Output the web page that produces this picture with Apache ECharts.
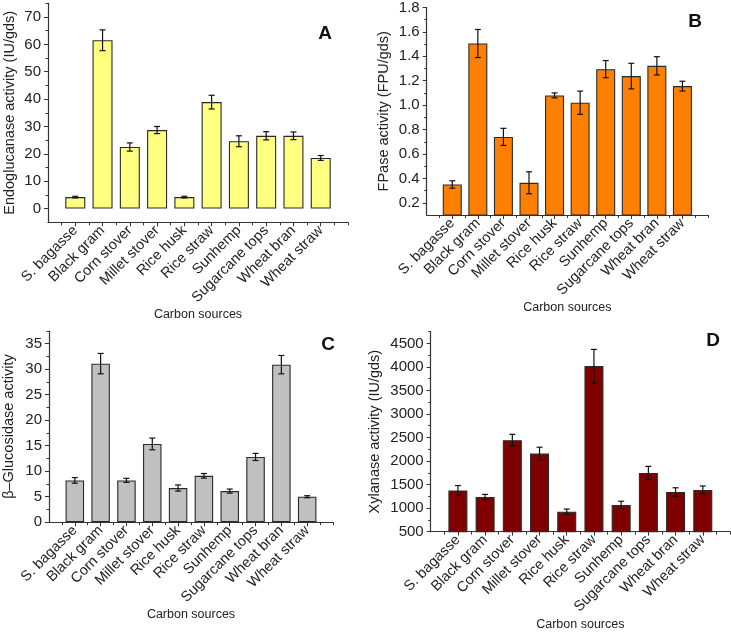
<!DOCTYPE html>
<html>
<head>
<meta charset="utf-8">
<script src="https://cdn.jsdelivr.net/npm/echarts@6/dist/echarts.min.js"></script>
<style>
html,body{margin:0;padding:0;background:#fff;}
#chart{width:731px;height:633px;}
</style>
</head>
<body>
<div id="chart"></div>
<script>
const categories = ['S. bagasse','Black gram','Corn stover','Millet stover','Rice husk','Rice straw','Sunhemp','Sugarcane tops','Wheat bran','Wheat straw'];

const endoValues = [4.2, 61.5, 22.5, 28.7, 4.2, 38.9, 24.6, 26.6, 26.6, 18.5];
const endoErrors = [0.3, 3.8, 1.5, 1.3, 0.3, 2.5, 2.0, 1.5, 1.4, 0.9];
const endoTicks = [0, 10, 20, 30, 40, 50, 60, 70];
const endoMinor = [5, 15, 25, 35, 45, 55, 65, 75];

const fpaseValues = [0.35, 1.505, 0.74, 0.364, 1.08, 1.02, 1.295, 1.238, 1.322, 1.156];
const fpaseErrors = [0.03, 0.115, 0.07, 0.09, 0.02, 0.095, 0.07, 0.105, 0.075, 0.04];
const fpaseTicks = [0.2, 0.4, 0.6, 0.8, 1.0, 1.2, 1.4, 1.6, 1.8];
const fpaseMinor = [0.3, 0.5, 0.7, 0.9, 1.1, 1.3, 1.5, 1.7];

const glucoValues = [8.2, 31.1, 8.2, 15.35, 6.7, 9.1, 6.1, 12.8, 30.9, 5.0];
const glucoErrors = [0.55, 2.0, 0.4, 1.15, 0.6, 0.45, 0.4, 0.7, 1.8, 0.2];
const glucoTicks = [0, 5, 10, 15, 20, 25, 30, 35];
const glucoMinor = [2.5, 7.5, 12.5, 17.5, 22.5, 27.5, 32.5, 37.5];

const xylValues = [1374, 1235, 2442, 2158, 924, 4017, 1065, 1746, 1341, 1384];
const xylErrors = [105, 55, 125, 135, 55, 355, 80, 140, 90, 85];
const xylTicks = [500, 1000, 1500, 2000, 2500, 3000, 3500, 4000, 4500];
const xylMinor = [750, 1250, 1750, 2250, 2750, 3250, 3750, 4250, 4750];

const xMajor = [1,2,3,4,5,6,7,8,9,10];
const xMinor = [0.5,1.5,2.5,3.5,4.5,5.5,6.5,7.5,8.5,9.5,10.5,11];

const FONT = 'Liberation Sans, Arial, sans-serif';
const AXIS_COLOR = '#333';

const panels = [
  {letter:'A', values:endoValues, errors:endoErrors, ticks:endoTicks, minor:endoMinor, min:-5, max:75,
   name:'Endoglucanase activity (IU/gds)', color:'#FFFF80', fmt:v=>String(Math.round(v)),
   left:48, top:3.3, width:300, height:219, barWidth:20, nameGap:31, lx:325, ly:34},
  {letter:'B', values:fpaseValues, errors:fpaseErrors, ticks:fpaseTicks, minor:fpaseMinor, min:0.1, max:1.8,
   name:'FPase activity (FPU/gds)', color:'#FF8000', fmt:v=>v.toFixed(1),
   left:426.7, top:7.3, width:281.3, height:207.7, barWidth:19, nameGap:35, lx:695, ly:22},
  {letter:'C', values:glucoValues, errors:glucoErrors, ticks:glucoTicks, minor:glucoMinor, min:0, max:37.5,
   name:'β–Glucosidase activity', color:'#C0C0C0', fmt:v=>String(Math.round(v)),
   left:48.3, top:331, width:284.7, height:191.2, barWidth:18.5, nameGap:33, lx:328, ly:345},
  {letter:'D', values:xylValues, errors:xylErrors, ticks:xylTicks, minor:xylMinor, min:500, max:4750,
   name:'Xylanase activity (IU/gds)', color:'#800000', fmt:v=>String(Math.round(v)),
   left:430.7, top:331.6, width:299.3, height:200, barWidth:19, nameGap:48, lx:713, ly:341}
];

const grid = [], xAxis = [], yAxis = [], series = [], graphic = [];

panels.forEach((p, i) => {
  grid.push({left:p.left, top:p.top, width:p.width, height:p.height, containLabel:false});
  xAxis.push({
    type:'value', gridIndex:i, min:0, max:11, position:'bottom',
    axisLine:{show:true, onZero:false, lineStyle:{color:AXIS_COLOR, width:1.2}},
    axisTick:{show:true, length:4, customValues:xMajor, lineStyle:{color:AXIS_COLOR}},
    axisLabel:{show:true, customValues:xMajor, rotate:45, margin:6,
      fontFamily:FONT, fontSize:14.5, color:'#222',
      formatter:v=>categories[Math.round(v)-1] || ''},
    splitLine:{show:false},
    name:'Carbon sources', nameLocation:'middle', nameGap:86,
    nameTextStyle:{fontFamily:FONT, fontSize:12.5, color:'#222'}
  });
  xAxis.push({
    type:'value', gridIndex:i, min:0, max:11, position:'bottom',
    axisLine:{show:false, onZero:false},
    axisTick:{show:true, length:3, customValues:xMinor, lineStyle:{color:AXIS_COLOR}},
    axisLabel:{show:false}, splitLine:{show:false}
  });
  yAxis.push({
    type:'value', gridIndex:i, min:p.min, max:p.max, position:'left',
    axisLine:{show:true, onZero:false, lineStyle:{color:AXIS_COLOR, width:1.2}},
    axisTick:{show:true, length:4, customValues:p.ticks, lineStyle:{color:AXIS_COLOR}},
    axisLabel:{show:true, customValues:p.ticks, margin:7, fontFamily:FONT, fontSize:15, color:'#222', formatter:p.fmt},
    splitLine:{show:false},
    name:p.name, nameLocation:'middle', nameRotate:90, nameGap:p.nameGap,
    nameTextStyle:{fontFamily:FONT, fontSize:14.5, color:'#222'}
  });
  yAxis.push({
    type:'value', gridIndex:i, min:p.min, max:p.max, position:'left',
    axisLine:{show:false, onZero:false},
    axisTick:{show:true, length:2.5, customValues:p.minor, lineStyle:{color:AXIS_COLOR}},
    axisLabel:{show:false}, splitLine:{show:false}
  });

  const barData = p.values.map((v, k) => [k + 1, v]);
  const errData = p.values.map((v, k) => [k + 1, v, p.errors[k]]);

  series.push({
    type:'bar', xAxisIndex:2*i, yAxisIndex:2*i, data:barData, barWidth:p.barWidth,
    itemStyle:{color:p.color, borderColor:'#2a2a2a', borderWidth:1.1},
    silent:true, animation:false, z:2
  });
  series.push({
    type:'custom', xAxisIndex:2*i, yAxisIndex:2*i, data:errData, z:5, animation:false, silent:true,
    renderItem:(params, api) => {
      const x = api.value(0), v = api.value(1), e = api.value(2);
      const t = api.coord([x, v + e]);
      const b = api.coord([x, v - e]);
      const cap = 3;
      const st = {stroke:'#111', lineWidth:1.2};
      return {type:'group', children:[
        {type:'line', shape:{x1:t[0], y1:t[1], x2:b[0], y2:b[1]}, style:st},
        {type:'line', shape:{x1:t[0]-cap, y1:t[1], x2:t[0]+cap, y2:t[1]}, style:st},
        {type:'line', shape:{x1:b[0]-cap, y1:b[1], x2:b[0]+cap, y2:b[1]}, style:st}
      ]};
    }
  });

  graphic.push({
    type:'text', x:p.lx, y:p.ly,
    style:{text:p.letter, font:'bold 19px ' + FONT, fill:'#111', align:'center', verticalAlign:'middle'}
  });
});

const chart = echarts.init(document.getElementById('chart'), null, {renderer:'canvas'});
chart.setOption({
  animation:false,
  backgroundColor:'#fff',
  grid, xAxis, yAxis, series, graphic
});
</script>
</body>
</html>
